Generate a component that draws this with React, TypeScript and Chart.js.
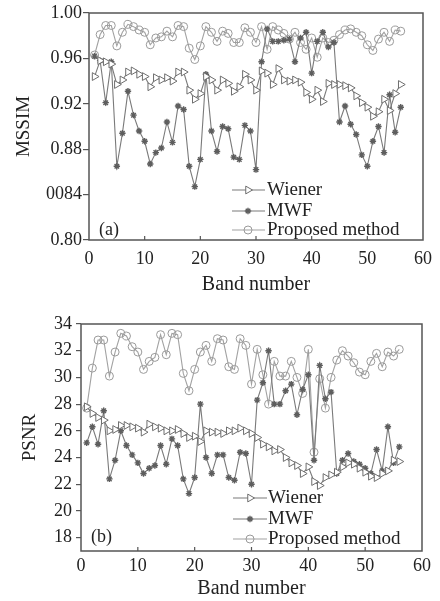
import React, { useEffect, useRef } from 'react';
import { Chart, registerables } from 'chart.js';

Chart.register(...registerables);

const FONT = '"Liberation Serif", "Times New Roman", Times, serif';

// ---- data ----
const bands = [
  1, 2, 3, 4, 5, 6, 7, 8, 9, 10, 11, 12, 13, 14, 15, 16, 17, 18, 19, 20,
  21, 22, 23, 24, 25, 26, 27, 28, 29, 30, 31, 32, 33, 34, 35, 36, 37, 38, 39, 40,
  41, 42, 43, 44, 45, 46, 47, 48, 49, 50, 51, 52, 53, 54, 55, 56,
];

const seriesNames = ['Wiener', 'MWF', 'Proposed method'];

const ssimWiener = [
  0.944, 0.958, 0.957, 0.955, 0.937, 0.941, 0.948, 0.949, 0.946, 0.944,
  0.935, 0.943, 0.941, 0.943, 0.940, 0.948, 0.948, 0.932, 0.924, 0.929,
  0.944, 0.941, 0.932, 0.941, 0.938, 0.931, 0.935, 0.946, 0.941, 0.932,
  0.949, 0.947, 0.937, 0.951, 0.941, 0.940, 0.941, 0.939, 0.930, 0.924,
  0.932, 0.922, 0.938, 0.937, 0.937, 0.936, 0.934, 0.927, 0.921, 0.917,
  0.909, 0.913, 0.924, 0.914, 0.929, 0.937,
];
const ssimMWF = [
  0.962, 0.958, 0.921, 0.957, 0.865, 0.894, 0.931, 0.910, 0.896, 0.887,
  0.867, 0.877, 0.881, 0.904, 0.886, 0.918, 0.915, 0.865, 0.847, 0.871,
  0.946, 0.896, 0.878, 0.900, 0.898, 0.873, 0.871, 0.901, 0.896, 0.862,
  0.957, 0.986, 0.975, 0.975, 0.976, 0.977, 0.957, 0.978, 0.983, 0.947,
  0.975, 0.983, 0.970, 0.974, 0.904, 0.918, 0.902, 0.893, 0.875, 0.865,
  0.887, 0.900, 0.877, 0.928, 0.895, 0.917,
];
const ssimProposed = [
  0.963, 0.981, 0.989, 0.989, 0.971, 0.983, 0.990, 0.988, 0.985, 0.983,
  0.972, 0.978, 0.979, 0.984, 0.979, 0.989, 0.988, 0.969, 0.959, 0.971,
  0.988, 0.983, 0.975, 0.984, 0.982, 0.974, 0.974, 0.987, 0.983, 0.974,
  0.988, 0.968, 0.988, 0.985, 0.982, 0.977, 0.983, 0.974, 0.968, 0.978,
  0.961, 0.978, 0.974, 0.976, 0.981, 0.985, 0.986, 0.983, 0.980, 0.972,
  0.967, 0.977, 0.983, 0.975, 0.985, 0.984,
];

const psnrWiener = [
  27.8, 27.3, 27.0, 26.8, 26.0, 26.1, 26.4, 26.4, 26.3, 26.2,
  25.9, 26.5, 26.3, 26.2, 26.0, 26.0, 26.1, 25.8, 25.5, 25.6,
  25.2, 26.0, 25.9, 25.9, 25.8, 26.0, 26.0, 26.2, 26.0, 25.8,
  25.5, 25.0, 24.8, 24.5, 24.6, 24.0, 23.6, 23.4, 22.8, 23.3,
  22.2, 21.9, 22.5, 22.7, 22.9, 23.3, 23.6, 23.5, 23.2, 22.9,
  22.6, 22.5, 22.8, 23.0, 23.8, 23.7,
];
const psnrMWF = [
  25.1, 26.3, 25.0, 27.5, 22.4, 23.8, 26.0, 24.9, 24.2, 23.6,
  22.8, 23.2, 23.4, 24.9, 23.5, 25.4, 24.9, 22.4, 21.3, 22.5,
  28.0, 24.0, 22.8, 24.2, 24.2, 22.5, 22.3, 24.4, 24.3, 22.0,
  28.3, 29.6, 32.0, 28.0, 28.0, 29.0, 29.5, 27.2, 29.1, 30.2,
  23.8, 30.9, 28.4, 28.9, 22.8, 23.8, 24.3, 23.7, 23.5, 23.2,
  22.8, 24.6, 23.0, 26.3, 23.6, 24.8,
];
const psnrProposed = [
  27.7, 30.7, 32.8, 32.8, 30.1, 31.9, 33.3, 33.1, 32.3, 31.9,
  30.6, 31.2, 31.5, 33.2, 31.7, 33.3, 33.2, 30.3, 29.0, 30.6,
  31.9, 32.4, 31.2, 32.9, 32.8, 30.8, 30.6, 32.9, 32.4, 29.5,
  32.1, 30.2, 28.0, 31.2, 30.1, 30.1, 31.2, 30.0, 28.8, 32.1,
  24.4, 29.9, 27.7, 30.0, 31.3, 32.0, 31.6, 31.1, 30.4, 30.2,
  31.2, 31.8, 30.8, 31.9, 31.6, 32.1,
];

const xTickValues = [0, 10, 20, 30, 40, 50, 60];
const xTickLabels = ['0', '10', '20', '30', '40', '50', '60'];
const ssimTickValues = [0.8, 0.84, 0.88, 0.92, 0.96, 1.0];
const ssimTickLabels = ['0.80', '0084', '0.88', '0.92', '0.96', '1.00'];
const psnrTickValues = [18, 20, 22, 24, 26, 28, 30, 32, 34];
const psnrTickLabels = ['18', '20', '22', '24', '26', '28', '30', '32', '34'];

// ---- styles ----
type Sty = { kind: string; radius: number; color: string; line: string; fill: string; lw: number };
const styles: Sty[] = [
  { kind: 'triangle', radius: 4.5, color: '#6e6e6e', line: '#7a7a7a', fill: '#ffffff', lw: 1 },
  { kind: 'star', radius: 3.2, color: '#5e5e5e', line: '#7a7a7a', fill: '#5e5e5e', lw: 1.4 },
  { kind: 'circle', radius: 4, color: '#9a9a9a', line: '#a2a2a2', fill: 'rgba(255,255,255,0)', lw: 1 },
];

function drawMarker(ctx: CanvasRenderingContext2D, st: Sty, x: number, y: number) {
  ctx.save();
  ctx.strokeStyle = st.color;
  ctx.fillStyle = st.fill;
  ctx.lineWidth = st.lw;
  ctx.beginPath();
  const r = st.radius;
  if (st.kind === 'triangle') {
    ctx.moveTo(x + r, y);
    ctx.lineTo(x - r * 0.5, y - r * 0.866);
    ctx.lineTo(x - r * 0.5, y + r * 0.866);
    ctx.closePath();
    ctx.fill();
    ctx.stroke();
  } else if (st.kind === 'star') {
    for (let i = 0; i < 4; i++) {
      const a = (i * Math.PI) / 4;
      ctx.moveTo(x - Math.cos(a) * r, y - Math.sin(a) * r);
      ctx.lineTo(x + Math.cos(a) * r, y + Math.sin(a) * r);
    }
    ctx.stroke();
  } else {
    ctx.arc(x, y, r, 0, Math.PI * 2);
    ctx.fill();
    ctx.stroke();
  }
  ctx.restore();
}

type Panel = {
  values: number[][];
  yMin: number;
  yMax: number;
  yTicks: number[];
  yLabels: string[];
  yTitle: string;
  height: number;
  pad: { left: number; right: number; top: number; bottom: number };
  yWidth: number;
  xHeight: number;
  yTickLen: number;
  yTickPad: number;
  yTitlePad: number;
  xTickPad: number;
  xTitlePad: number;
  legend: { x0: number; x1: number; mx: number; tx: number; rows: number[] };
  tag: { text: string; x: number; y: number };
};

function makeConfig(p: Panel): any {
  const overlay = {
    id: 'overlay',
    afterDraw(chart: any) {
      const { ctx, chartArea: a } = chart;
      ctx.save();
      ctx.strokeStyle = '#555';
      ctx.lineWidth = 1.5;
      ctx.strokeRect(a.left, a.top, a.right - a.left, a.bottom - a.top);
      // inward x ticks
      const xs = chart.scales.x;
      ctx.lineWidth = 1.2;
      ctx.beginPath();
      for (const v of xTickValues) {
        if (v <= xs.min || v >= xs.max) continue;
        const px = xs.getPixelForValue(v);
        ctx.moveTo(px, a.bottom);
        ctx.lineTo(px, a.bottom - 4);
      }
      ctx.stroke();
      // legend
      const L = p.legend;
      ctx.font = `19px ${FONT}`;
      ctx.textBaseline = 'middle';
      ctx.textAlign = 'left';
      seriesNames.forEach((name, i) => {
        const y = L.rows[i];
        const st = styles[i];
        ctx.strokeStyle = st.line;
        ctx.lineWidth = 1.2;
        ctx.beginPath();
        ctx.moveTo(L.x0, y);
        ctx.lineTo(L.x1, y);
        ctx.stroke();
        drawMarker(ctx, st, L.mx, y);
        ctx.fillStyle = '#222';
        ctx.fillText(name, L.tx, y);
      });
      // tag
      ctx.font = `18px ${FONT}`;
      ctx.fillStyle = '#222';
      ctx.fillText(p.tag.text, p.tag.x, p.tag.y);
      ctx.restore();
    },
  };

  return {
    type: 'line',
    data: {
      datasets: p.values.map((vals, i) => {
        const st = styles[i];
        return {
          label: seriesNames[i],
          data: bands.map((b, j) => ({ x: b, y: vals[j] })),
          borderColor: st.line,
          borderWidth: 1.1,
          backgroundColor: st.fill,
          pointStyle: st.kind,
          pointRotation: st.kind === 'triangle' ? 90 : 0,
          pointRadius: st.radius,
          pointBorderColor: st.color,
          pointBackgroundColor: st.fill,
          pointBorderWidth: st.lw,
          tension: 0,
          fill: false,
        };
      }),
    },
    options: {
      animation: false,
      responsive: false,
      maintainAspectRatio: false,
      events: [],
      layout: { padding: p.pad, autoPadding: false },
      plugins: { legend: { display: false }, tooltip: { enabled: false } },
      scales: {
        x: {
          type: 'linear',
          min: 0,
          max: 60,
          afterBuildTicks: (s: any) => {
            s.ticks = xTickValues.map((v) => ({ value: v }));
          },
          afterFit: (s: any) => {
            s.height = p.xHeight;
          },
          grid: { display: false, drawTicks: false },
          border: { display: false },
          ticks: {
            padding: p.xTickPad,
            maxRotation: 0,
            autoSkip: false,
            color: '#222',
            font: { family: FONT, size: 18 },
            callback: (_v: any, i: number) => xTickLabels[i],
          },
          title: {
            display: true,
            text: 'Band number',
            color: '#222',
            font: { family: FONT, size: 20 },
            padding: { top: 0, bottom: p.xTitlePad },
          },
        },
        y: {
          type: 'linear',
          min: p.yMin,
          max: p.yMax,
          afterBuildTicks: (s: any) => {
            s.ticks = p.yTicks.map((v) => ({ value: v }));
          },
          afterFit: (s: any) => {
            s.width = p.yWidth;
          },
          grid: {
            display: true,
            drawOnChartArea: false,
            drawTicks: true,
            tickLength: p.yTickLen,
            color: '#555',
            lineWidth: 1.2,
          },
          border: { display: false },
          ticks: {
            padding: p.yTickPad,
            autoSkip: false,
            color: '#222',
            font: { family: FONT, size: 18 },
            callback: (_v: any, i: number) => p.yLabels[i],
          },
          title: {
            display: true,
            text: p.yTitle,
            color: '#222',
            font: { family: FONT, size: 19 },
            padding: { top: p.yTitlePad, bottom: 0 },
          },
        },
      },
    },
    plugins: [overlay],
  };
}

const panelA: Panel = {
  values: [ssimWiener, ssimMWF, ssimProposed],
  yMin: 0.8,
  yMax: 1.0,
  yTicks: ssimTickValues,
  yLabels: ssimTickLabels,
  yTitle: 'MSSIM',
  height: 300,
  pad: { left: 0, right: 10, top: 13, bottom: 0 },
  yWidth: 89,
  xHeight: 60,
  yTickLen: 6,
  yTickPad: 1,
  yTitlePad: 13,
  xTickPad: 8,
  xTitlePad: 3,
  legend: { x0: 232, x1: 265, mx: 248, tx: 267, rows: [190, 211, 230] },
  tag: { text: '(a)', x: 99, y: 230 },
};

const panelB: Panel = {
  values: [psnrWiener, psnrMWF, psnrProposed],
  yMin: 17,
  yMax: 34,
  yTicks: psnrTickValues,
  yLabels: psnrTickLabels,
  yTitle: 'PSNR',
  height: 301,
  pad: { left: 0, right: 18, top: 24, bottom: 0 },
  yWidth: 81,
  xHeight: 50,
  yTickLen: 5,
  yTickPad: 4,
  yTitlePad: 19,
  xTickPad: 4,
  xTitlePad: 0,
  legend: { x0: 233, x1: 267, mx: 250, tx: 268, rows: [198, 219, 239] },
  tag: { text: '(b)', x: 91, y: 237 },
};

function ChartPanel({ panel }: { panel: Panel }) {
  const ref = useRef<HTMLCanvasElement | null>(null);
  useEffect(() => {
    if (!ref.current) return;
    const chart = new Chart(ref.current, makeConfig(panel));
    return () => chart.destroy();
  }, [panel]);
  return (
    <canvas
      ref={ref}
      width={440}
      height={panel.height}
      style={{ display: 'block', width: 440, height: panel.height }}
    />
  );
}

export default function App() {
  return (
    <div style={{ position: 'absolute', left: 0, top: 0, width: 440, height: 601, background: '#fff' }}>
      <ChartPanel panel={panelA} />
      <ChartPanel panel={panelB} />
    </div>
  );
}
